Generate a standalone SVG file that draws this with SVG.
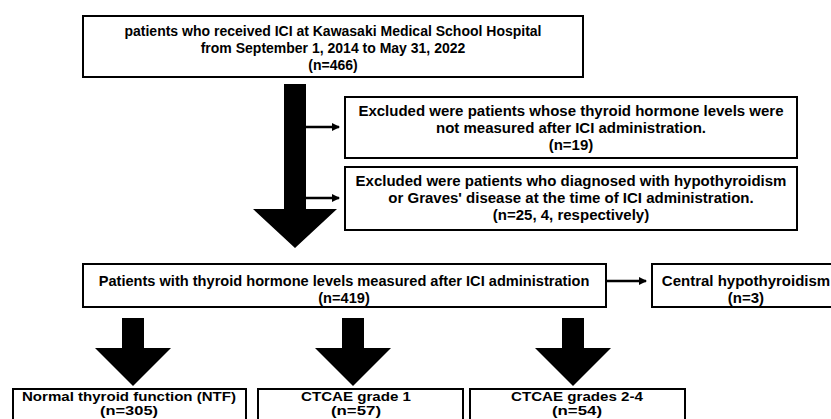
<svg xmlns="http://www.w3.org/2000/svg" width="831" height="419" viewBox="0 0 831 419">
<defs>
<marker id="ah" markerWidth="8" markerHeight="8" refX="7" refY="4" orient="auto" markerUnits="userSpaceOnUse"><path d="M0,0 L8,4 L0,8 z" fill="#000"/></marker>
</defs>
<style>
.box{fill:#fff;stroke:#000;stroke-width:2}
.t{font-family:"Liberation Sans",Arial,sans-serif;font-weight:bold;font-size:15px;fill:#000;text-anchor:middle}
.s14{font-size:14px}
.s145{font-size:14.6px}
.s13{font-size:13.5px}
.big{fill:#000}
.thin{stroke:#000;stroke-width:2.5;fill:none}
</style>
<rect width="831" height="419" fill="#fff"/>
<g id="connectors">
<path class="big" d="M284,84 H306 V209 H337 L295,248 L253,209 H284 Z"/>
<line class="thin" x1="306" y1="127" x2="339" y2="127" marker-end="url(#ah)"/>
<line class="thin" x1="306" y1="198" x2="339" y2="198" marker-end="url(#ah)"/>
<line class="thin" x1="606" y1="281" x2="646" y2="281" marker-end="url(#ah)"/>
<path class="big" d="M122,318 H144 V348 H171 L133,386 L95,348 H122 Z"/>
<path class="big" d="M342,318 H364 V348 H391 L353,386 L315,348 H342 Z"/>
<path class="big" d="M562,318 H584 V348 H611 L573,386 L535,348 H562 Z"/>
</g>
<g id="n-top"><rect class="box" x="83" y="16" width="500" height="61"/>
<text class="t s14" x="333" y="36">patients who received ICI at Kawasaki Medical School Hospital</text>
<text class="t s14" x="333" y="53">from September 1, 2014 to May 31, 2022</text>
<text class="t s14" x="333" y="70">(n=466)</text></g>
<g id="n-ex1"><rect class="box" x="345" y="97" width="452" height="61"/>
<text class="t" x="571" y="116">Excluded were patients whose thyroid hormone levels were</text>
<text class="t" x="571" y="133">not measured after ICI administration.</text>
<text class="t" x="571" y="150">(n=19)</text></g>
<g id="n-ex2"><rect class="box" x="345" y="167" width="452" height="63"/>
<text class="t" x="571" y="186">Excluded were patients who diagnosed with hypothyroidism</text>
<text class="t" x="571" y="203">or Graves' disease at the time of ICI administration.</text>
<text class="t" x="571" y="220">(n=25, 4, respectively)</text></g>
<g id="n-meas"><rect class="box" x="83" y="264" width="523" height="43"/>
<text class="t s145" x="344" y="286">Patients with thyroid hormone levels measured after ICI administration</text>
<text class="t s145" x="344" y="303">(n=419)</text></g>
<g id="n-central"><rect class="box" x="652" y="264" width="190" height="43"/>
<text class="t" x="746" y="286">Central hypothyroidism</text>
<text class="t" x="746" y="303">(n=3)</text></g>
<g id="n-ntf"><rect class="box" x="13" y="389" width="233" height="40"/>
<text class="t s13" x="129" y="401" textLength="214" lengthAdjust="spacingAndGlyphs">Normal thyroid function (NTF)</text>
<text class="t s13" x="129" y="415" textLength="58" lengthAdjust="spacingAndGlyphs">(n=305)</text></g>
<g id="n-g1"><rect class="box" x="258" y="389" width="205" height="40"/>
<text class="t s13" x="356" y="401" textLength="110" lengthAdjust="spacingAndGlyphs">CTCAE grade 1</text>
<text class="t s13" x="356" y="415" textLength="50" lengthAdjust="spacingAndGlyphs">(n=57)</text></g>
<g id="n-g2"><rect class="box" x="470" y="389" width="215" height="40"/>
<text class="t s13" x="577" y="401" textLength="132" lengthAdjust="spacingAndGlyphs">CTCAE grades 2-4</text>
<text class="t s13" x="577" y="415" textLength="50" lengthAdjust="spacingAndGlyphs">(n=54)</text></g>
</svg>
